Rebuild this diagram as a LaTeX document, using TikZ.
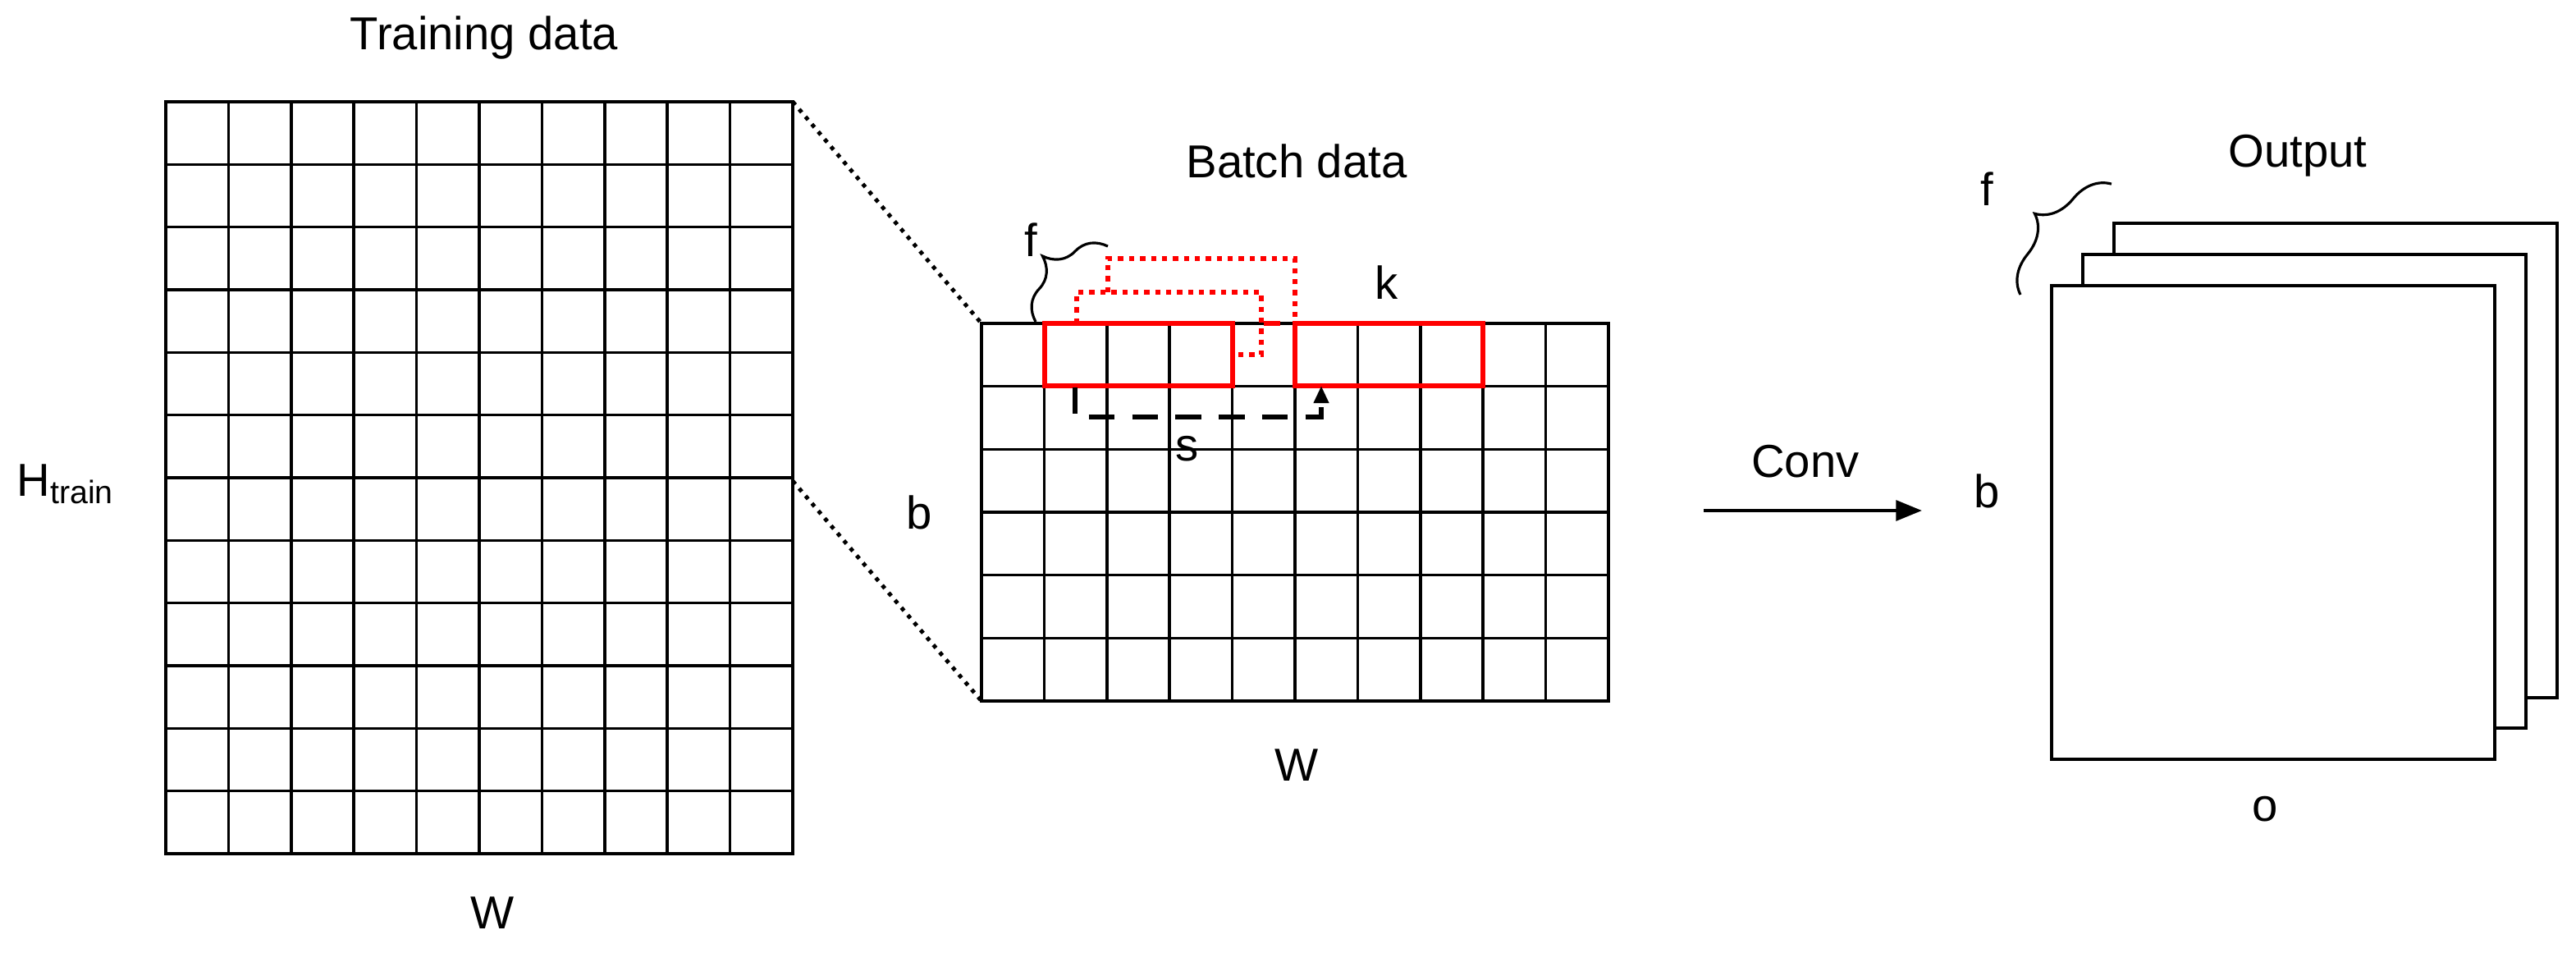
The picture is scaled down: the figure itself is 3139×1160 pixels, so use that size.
\documentclass[tikz,border=0pt]{standalone}
\usepackage{fontspec}
\setmainfont{Liberation Sans}
\usetikzlibrary{decorations.pathreplacing,arrows.meta}
\begin{document}
\begin{tikzpicture}[x=0.01cm,y=-0.01cm,
  lbl/.style={inner sep=0pt,font=\fontsize{16}{19}\selectfont},
  grid/.style={line width=1pt,black},
  redbox/.style={draw=red,line width=1.8pt},
  reddot/.style={red,line width=1.8pt,dotted},
  link/.style={line width=1.4pt,dotted},
  brc/.style={decorate,decoration={brace,amplitude=14pt},line width=0.9pt},
  sheet/.style={draw,line width=1.2pt,fill=white}]
\useasboundingbox (0,0) rectangle (3139,1160);
% training grid
\coordinate (t1) at (202,124); \coordinate (t2) at (966,1040);
\foreach \i in {1,...,9} \draw[grid] ({202+76.4*\i},124) -- ({202+76.4*\i},1040);
\foreach \j in {1,...,11} \draw[grid] (202,{124+76.33*\j}) -- (966,{124+76.33*\j});
\draw[grid] (t1) rectangle (t2);
\coordinate (tr) at (966,124); \coordinate (tm) at (966,586);
% batch grid
\coordinate (b1) at (1196,394); \coordinate (b2) at (1960,854);
\coordinate (bl) at (1196,854);
\foreach \i in {1,...,9} \draw[grid] ({1196+76.4*\i},394) -- ({1196+76.4*\i},854);
\foreach \j in {1,...,5} \draw[grid] (1196,{394+76.67*\j}) -- (1960,{394+76.67*\j});
\draw[grid] (b1) rectangle (b2);
\draw[link] (tr) -- (b1);
\draw[link] (tm) -- (bl);
% red boxes
\coordinate (r1a) at (1273,394); \coordinate (r1b) at (1502,470);
\coordinate (r2a) at (1578,394); \coordinate (r2b) at (1807,470);
\draw[redbox] (r1a) rectangle (r1b);
\draw[redbox] (r2a) rectangle (r2b);
\coordinate (d1) at (1312,394); \coordinate (d1e) at (1502,432);
\draw[reddot] (d1) -- (1312,356) -- (1537,356) -- (1537,432) -- (d1e);
\coordinate (d2) at (1350,356); \coordinate (d2e) at (1578,394);
\draw[reddot] (d2) -- (1350,315) -- (1578,315) -- (d2e);
\draw[red,line width=1.8pt] (1540,394) -- (1560,394);
% dashed stride
\coordinate (s1) at (1310,472); \coordinate (s2) at (1610,470);
\draw[dashed,line width=1.6pt,dash pattern=on 9pt off 6pt,-{Triangle[length=6pt,width=5pt]}] (s1) -- (1310,508) -- (1610,508) -- (s2);
% labels
\node[lbl] (ltd) at (590,46) {Training data};
\node[lbl] (lw1) at (600,1112) {W};
\node[lbl] (lh) at (80,590) {H\textsubscript{train}};
\node[lbl] (lbd) at (1580,196) {Batch data};
\node[lbl] (lb) at (1120,624) {b};
\node[lbl] (lw2) at (1580,932) {W};
\node[lbl] (lf) at (1256,292) {f};
\node[lbl] (lk) at (1690,344) {k};
\node[lbl] (ls) at (1447,547) {s};
% brace batch
\coordinate (br1) at (1262,392); \coordinate (br2) at (1350,300);
\draw[brc] (br1) -- (br2);
% conv arrow
\coordinate (c1) at (2076,622); \coordinate (c2) at (2342,622);
\draw[line width=1.2pt,-{Triangle[length=9pt,width=7pt]}] (c1) -- (c2);
\node[lbl] (lc) at (2200,562) {Conv};
% output sheets
\draw[sheet] (2576,272) rectangle (3116,850);
\draw[sheet] (2538,310) rectangle (3078,887);
\draw[sheet] (2500,348) rectangle (3040,925);
\node[lbl] (lo) at (2800,190) {Output};
\node[lbl] (lf2) at (2421,230) {f};
\node[lbl] (lb2) at (2421,598) {b};
\node[lbl] (lo2) at (2760,986) {o};
\coordinate (ob1) at (2462,359); \coordinate (ob2) at (2573,224);
\draw[brc] (ob1) -- (ob2);
\end{tikzpicture}
\end{document}
